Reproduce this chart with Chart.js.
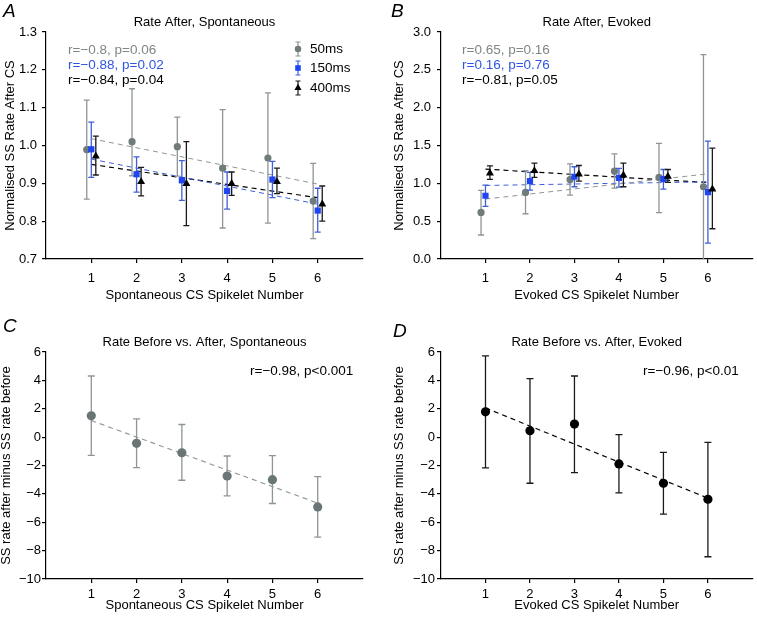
<!DOCTYPE html>
<html lang="en">
<head>
<meta charset="UTF-8" />
<title>SS rate after CS by spikelet number</title>
<script src="https://cdn.jsdelivr.net/npm/chart.js"></script>
<style>
  body{margin:0;background:#fff;}
  #fig{position:relative;width:757px;height:622px;overflow:hidden;}
  #fig canvas{position:absolute;}
</style>
</head>
<body>
<div id="fig">
  <canvas id="panelA" width="378" height="310" style="left:0;top:0"></canvas>
  <canvas id="panelB" width="379" height="310" style="left:378px;top:0"></canvas>
  <canvas id="panelC" width="378" height="312" style="left:0;top:310px"></canvas>
  <canvas id="panelD" width="379" height="312" style="left:378px;top:310px"></canvas>
</div>
<script>
  // ---- data ----
  const spikelets = [1, 2, 3, 4, 5, 6];
  const durations = ['50ms', '150ms', '400ms'];
  const fitEnds = [1, 6];

  // A: rate after, spontaneous (normalised)
  const aMean50  = [0.989, 1.010, 0.997, 0.940, 0.967, 0.853];
  const aLow50   = [0.858, 0.920, 0.919, 0.782, 0.795, 0.754];
  const aHigh50  = [1.120, 1.150, 1.075, 1.095, 1.139, 0.953];
  const aMean150 = [0.990, 0.924, 0.908, 0.880, 0.910, 0.828];
  const aLow150  = [0.916, 0.877, 0.855, 0.832, 0.862, 0.771];
  const aHigh150 = [1.062, 0.970, 0.960, 0.930, 0.958, 0.887];
  const aMean400 = [0.972, 0.904, 0.899, 0.899, 0.904, 0.845];
  const aLow400  = [0.922, 0.867, 0.788, 0.868, 0.873, 0.800];
  const aHigh400 = [1.025, 0.942, 1.010, 0.930, 0.940, 0.893];
  const aFit50 = [1.018, 0.898], aFit150 = [0.964, 0.845], aFit400 = [0.950, 0.862];

  // B: rate after, evoked (normalised)
  const bMean50  = [0.616, 0.880, 1.050, 1.161, 1.078, 0.955];
  const bLow50   = [0.317, 0.598, 0.845, 0.937, 0.612, -0.790];
  const bHigh50  = [0.906, 1.166, 1.258, 1.390, 1.527, 2.700];
  const bMean150 = [0.836, 1.030, 1.087, 1.073, 1.056, 0.884];
  const bLow150  = [0.695, 0.910, 0.955, 0.950, 0.924, 0.211];
  const bHigh150 = [0.977, 1.144, 1.219, 1.197, 1.183, 1.557];
  const bMean400 = [1.135, 1.166, 1.122, 1.109, 1.091, 0.924];
  const bLow400  = [1.051, 1.078, 1.030, 0.955, 1.012, 0.400];
  const bHigh400 = [1.232, 1.267, 1.236, 1.267, 1.183, 1.465];
  const bFit50 = [0.792, 1.126], bFit150 = [0.972, 1.020], bFit400 = [1.188, 1.010];

  // C, D: SS rate after minus SS rate before
  const cMean = [1.50, -0.44, -1.10, -2.74, -3.00, -4.92];
  const cLow  = [-1.29, -2.15, -3.04, -4.14, -4.68, -7.05];
  const cHigh = [4.31, 1.29, 0.89, -1.33, -1.31, -2.78];
  const cFit  = [1.17, -4.65];
  const dMean = [1.78, 0.45, 0.92, -1.89, -3.25, -4.38];
  const dLow  = [-2.17, -3.25, -2.50, -3.93, -5.43, -8.43];
  const dHigh = [5.72, 4.12, 4.31, 0.17, -1.07, -0.37];
  const dFit  = [2.05, -4.30];

  const ticksNorm = [0.7, 1.3, 0.1];
  const ticksEvoked = [0, 3, 0.5];
  const ticksDiff = [-10, 6, 2];

  // ---- styling ----
  const FONT = "'Liberation Sans', Arial, Helvetica, sans-serif";
  const GREY = '#707b7b', GREY_BAR = '#8e9595', GREY_TXT = '#7f8686';
  const BLUE = '#1f45f0', BLUE_BAR = '#3f5fd8', BLUE_TXT = '#2f56e2';
  const BLACK = '#000', BLACK_BAR = '#1a1a1a';
  const jitter = 0.1;

  const pts = (xs, ys, dx) => xs.map((v, i) => ({x: v + dx, y: ys[i]}));

  function series(label, mean, low, high, dx, style) {
    return Object.assign({
      label, type: 'scatter', data: pts(spikelets, mean, dx),
      errLow: low, errHigh: high, borderWidth: 0, pointBorderWidth: 0
    }, style);
  }
  function fitLine(ys, color, order, width) {
    return {
      type: 'line', data: pts(fitEnds, ys, 0), borderColor: color, borderWidth: width || 1,
      borderDash: [5, 4], pointRadius: 0, fill: false, order, tension: 0
    };
  }

  const panelDecor = {
    id: 'panelDecor',
    beforeDatasetDraw(chart, args) {
      const ds = chart.data.datasets[args.index];
      if (!ds.errLow) return;
      const {ctx, chartArea: ca, scales: {x, y}} = chart;
      const cap = ds.cap || 3;
      ctx.save();
      ctx.beginPath();
      ctx.rect(ca.left, ca.top - 4, ca.right - ca.left, ca.bottom - ca.top + 4);
      ctx.clip();
      ctx.strokeStyle = ds.errColor;
      ctx.lineWidth = ds.errWidth || 1.3;
      ds.data.forEach((p, i) => {
        const px = x.getPixelForValue(p.x);
        const lo = y.getPixelForValue(ds.errLow[i]);
        const hi = y.getPixelForValue(ds.errHigh[i]);
        ctx.beginPath();
        ctx.moveTo(px, lo); ctx.lineTo(px, hi);
        ctx.moveTo(px - cap, lo); ctx.lineTo(px + cap, lo);
        ctx.moveTo(px - cap, hi); ctx.lineTo(px + cap, hi);
        ctx.stroke();
      });
      ctx.restore();
    },
    afterDraw(chart, args, o) {
      const ctx = chart.ctx, ca = chart.chartArea;
      ctx.save();
      ctx.textBaseline = 'middle';
      // panel title
      ctx.fillStyle = '#000';
      ctx.font = '13px ' + FONT;
      ctx.textAlign = 'center';
      ctx.fillText(o.title, (ca.left + ca.right) / 2, o.titleY);
      // panel letter
      ctx.font = 'italic 19px ' + FONT;
      ctx.textAlign = 'left';
      ctx.textBaseline = 'alphabetic';
      ctx.fillText(o.letter, o.letterX, o.letterY);
      // r / p notes
      ctx.textBaseline = 'middle';
      ctx.font = '13.5px ' + FONT;
      (o.notes || []).forEach(n => { ctx.fillStyle = n.color; ctx.fillText(n.text, n.x, n.y); });
      // legend with error-bar markers
      if (o.legend) {
        o.legend.rows.forEach((r, i) => {
          const ds = chart.data.datasets[r.ds];
          const lx = o.legend.x, ly = o.legend.y[i];
          ctx.strokeStyle = ds.errColor; ctx.lineWidth = 1.2;
          ctx.beginPath();
          ctx.moveTo(lx, ly - 7); ctx.lineTo(lx, ly + 7);
          ctx.moveTo(lx - 2.5, ly - 7); ctx.lineTo(lx + 2.5, ly - 7);
          ctx.moveTo(lx - 2.5, ly + 7); ctx.lineTo(lx + 2.5, ly + 7);
          ctx.stroke();
          ctx.fillStyle = ds.pointBackgroundColor;
          Chart.helpers.drawPoint(ctx, {pointStyle: ds.pointStyle, radius: ds.pointRadius * 0.9, rotation: 0, borderWidth: 0}, lx, ly);
          ctx.fillStyle = '#000';
          ctx.font = '13.5px ' + FONT;
          ctx.fillText(ds.label, o.legend.textX, ly);
        });
      }
      ctx.restore();
    }
  };

  function makePanel(id, p) {
    const canvas = document.getElementById(id);
    const W = canvas.width, H = canvas.height, a = p.area;
    const fmt = p.yFmt;
    return new Chart(canvas, {
      data: {datasets: p.datasets},
      options: {
        responsive: false, animation: false, devicePixelRatio: 1,
        layout: {padding: {top: a.top, right: W - a.right, left: 0, bottom: 0}},
        plugins: {legend: {display: false}, tooltip: {enabled: false}, title: {display: false}, panelDecor: p.decor},
        scales: {
          x: {
            type: 'linear', min: 0, max: 7,
            afterBuildTicks: s => { s.ticks = spikelets.map(v => ({value: v})); },
            afterFit: s => { s.height = H - a.bottom; },
            border: {color: '#000', width: 1.2},
            grid: {drawOnChartArea: false, drawTicks: true, tickLength: 4, color: '#000', lineWidth: 1.2},
            ticks: {color: '#000', font: {family: FONT, size: 13}, padding: p.xPad, maxRotation: 0, autoSkip: false},
            title: {display: true, text: p.xTitle, color: '#000', font: {family: FONT, size: 13, lineHeight: 1}, padding: {top: 0, bottom: p.xTitlePad}}
          },
          y: {
            type: 'linear', min: p.yTicks[0], max: p.yTicks[1],
            afterFit: s => { s.width = a.left; },
            border: {color: '#000', width: 1.2},
            grid: {drawOnChartArea: false, drawTicks: true, tickLength: 4, color: '#000', lineWidth: 1.2},
            ticks: {stepSize: p.yTicks[2], color: '#000', font: {family: FONT, size: 13}, padding: p.yPad, callback: fmt},
            title: {display: true, text: p.yTitle, color: '#000', font: {family: FONT, size: 13, lineHeight: 1}, padding: {top: p.yTitlePad, bottom: 0}}
          }
        }
      },
      plugins: [panelDecor]
    });
  }

  const fmt1 = v => v.toFixed(1);
  const fmtInt = v => (v < 0 ? '\u2212' + Math.abs(v) : String(v));

  const greyStyle = {pointStyle: 'circle', pointRadius: 3.6, pointBackgroundColor: GREY, errColor: GREY_BAR, order: 3};
  const blueStyle = {pointStyle: 'rect', pointRadius: 4.4, pointBackgroundColor: BLUE, errColor: BLUE_BAR, order: 2};
  const blackStyle = {pointStyle: 'triangle', pointRadius: 4.6, pointBackgroundColor: BLACK, errColor: BLACK_BAR, order: 1};

  const legendA = {x: 298, textX: 310, y: [49, 68, 88], rows: [{ds: 0}, {ds: 1}, {ds: 2}]};

  makePanel('panelA', {
    area: {left: 46, top: 32, right: 363, bottom: 259},
    yTicks: ticksNorm, yFmt: fmt1, yPad: 5, yTitlePad: 3.5, xPad: 8, xTitlePad: 8.5,
    xTitle: 'Spontaneous CS Spikelet Number', yTitle: 'Normalised SS Rate After CS',
    datasets: [
      series(durations[0], aMean50, aLow50, aHigh50, -jitter, greyStyle),
      series(durations[1], aMean150, aLow150, aHigh150, 0, blueStyle),
      series(durations[2], aMean400, aLow400, aHigh400, jitter, blackStyle),
      fitLine(aFit50, GREY_BAR, 4), fitLine(aFit150, BLUE_BAR, 4), fitLine(aFit400, BLACK, 4, 1.2)
    ],
    decor: {
      title: 'Rate After, Spontaneous', titleY: 22, letter: 'A', letterX: 3, letterY: 17,
      notes: [
        {text: 'r=\u22120.8, p=0.06', color: GREY_TXT, x: 68, y: 50},
        {text: 'r=\u22120.88, p=0.02', color: BLUE_TXT, x: 68, y: 65},
        {text: 'r=\u22120.84, p=0.04', color: '#000', x: 68, y: 80}
      ],
      legend: legendA
    }
  });

  makePanel('panelB', {
    area: {left: 63, top: 32, right: 378, bottom: 259},
    yTicks: ticksEvoked, yFmt: fmt1, yPad: 6, yTitlePad: 14.5, xPad: 8, xTitlePad: 8.5,
    xTitle: 'Evoked CS Spikelet Number', yTitle: 'Normalised SS Rate After CS',
    datasets: [
      series(durations[0], bMean50, bLow50, bHigh50, -jitter, greyStyle),
      series(durations[1], bMean150, bLow150, bHigh150, 0, blueStyle),
      series(durations[2], bMean400, bLow400, bHigh400, jitter, blackStyle),
      fitLine(bFit50, GREY_BAR, 4), fitLine(bFit150, BLUE_BAR, 4), fitLine(bFit400, BLACK, 4, 1.2)
    ],
    decor: {
      title: 'Rate After, Evoked', titleY: 22, letter: 'B', letterX: 13, letterY: 17,
      notes: [
        {text: 'r=0.65, p=0.16', color: GREY_TXT, x: 84, y: 50},
        {text: 'r=0.16, p=0.76', color: BLUE_TXT, x: 84, y: 65},
        {text: 'r=\u22120.81, p=0.05', color: '#000', x: 84, y: 80}
      ]
    }
  });

  makePanel('panelC', {
    area: {left: 46, top: 42, right: 363, bottom: 269},
    yTicks: ticksDiff, yFmt: fmtInt, yPad: 1, yTitlePad: 0, xPad: 3.5, xTitlePad: 10.5,
    xTitle: 'Spontaneous CS Spikelet Number', yTitle: 'SS rate after minus SS rate before',
    datasets: [
      series('diff', cMean, cLow, cHigh, 0, {pointStyle: 'circle', pointRadius: 4.6, pointBackgroundColor: '#6a7675', errColor: GREY_BAR, cap: 3.5, order: 1}),
      fitLine(cFit, GREY_BAR, 2, 1.1)
    ],
    decor: {
      title: 'Rate Before vs. After, Spontaneous', titleY: 32, letter: 'C', letterX: 3, letterY: 22,
      notes: [{text: 'r=\u22120.98, p<0.001', color: '#000', x: 250, y: 61}]
    }
  });

  makePanel('panelD', {
    area: {left: 63, top: 42, right: 378, bottom: 269},
    yTicks: ticksDiff, yFmt: fmtInt, yPad: 2, yTitlePad: 14.5, xPad: 3.5, xTitlePad: 10.5,
    xTitle: 'Evoked CS Spikelet Number', yTitle: 'SS rate after minus SS rate before',
    datasets: [
      series('diff', dMean, dLow, dHigh, 0, {pointStyle: 'circle', pointRadius: 4.6, pointBackgroundColor: '#000', errColor: BLACK_BAR, cap: 3.5, order: 1}),
      fitLine(dFit, BLACK, 2, 1.2)
    ],
    decor: {
      title: 'Rate Before vs. After, Evoked', titleY: 32, letter: 'D', letterX: 15, letterY: 27,
      notes: [{text: 'r=\u22120.96, p<0.01', color: '#000', x: 265, y: 61}]
    }
  });
</script>
</body>
</html>
